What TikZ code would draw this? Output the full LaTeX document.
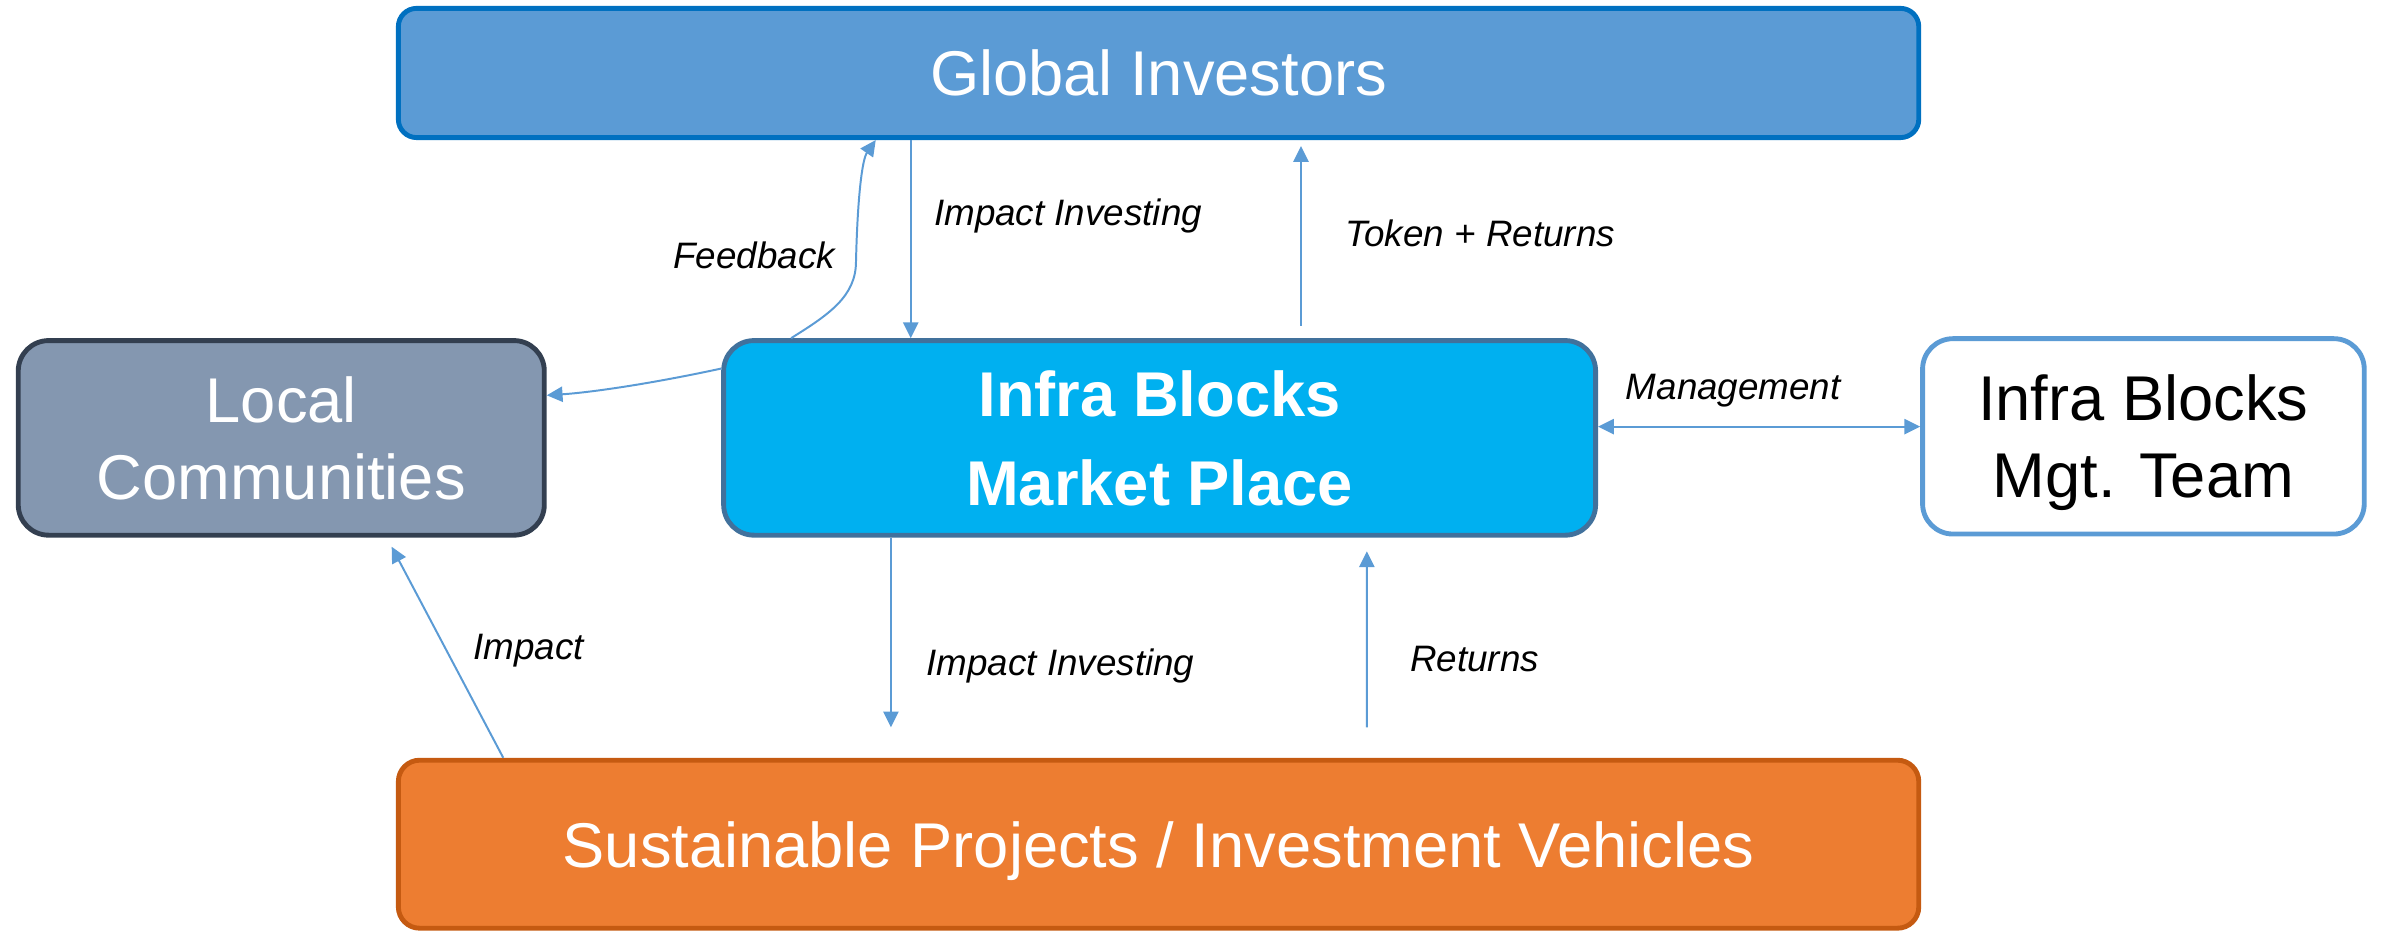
\documentclass[tikz,border=0pt]{standalone}
\usepackage{fontspec}
\setmainfont{Liberation Sans}
\usetikzlibrary{arrows.meta,calc}
\definecolor{giFill}{HTML}{5B9BD5}
\definecolor{giLine}{HTML}{0070C0}
\definecolor{lcFill}{HTML}{8497B0}
\definecolor{lcLine}{HTML}{333F50}
\definecolor{mpFill}{HTML}{00B0F0}
\definecolor{mpLine}{HTML}{41719C}
\definecolor{spFill}{HTML}{ED7D31}
\definecolor{spLine}{HTML}{C55A11}
\definecolor{conn}{HTML}{5B9BD5}
\begin{document}
\begin{tikzpicture}[x=0.5pt,y=-0.5pt,
  box/.style={draw, line width=1.6pt, rectangle, inner sep=0pt, align=center,
              text depth=0pt, font=\fontsize{20.8}{25.3}\selectfont},
  arr/.style={draw=conn, line width=0.65pt, -{Triangle[length=5.2pt,width=5pt]}},
  dbl/.style={draw=conn, line width=0.65pt, {Triangle[length=5.2pt,width=5pt]}-{Triangle[length=5.2pt,width=5pt]}},
  lbl/.style={font=\fontsize{12.1}{14}\selectfont\itshape, inner sep=0pt, anchor=base west}]
\useasboundingbox (0,0) rectangle (1568,612.33);

\node[box, fill=giFill, draw=giLine, text=white, rounded corners=6pt,
      minimum width=500pt, minimum height=42.5pt] (gi) at (762,48) {Global Investors};
\node[box, fill=lcFill, draw=lcLine, text=white, rounded corners=10pt,
      minimum width=173pt, minimum height=64pt] (lc) at (185,288) {Local\\Communities};
\node[box, fill=mpFill, draw=mpLine, text=white, rounded corners=10pt,
      minimum width=286.75pt, minimum height=64pt,
      font=\fontsize{20.8}{29.2}\selectfont\bfseries] (mp) at (762.7,288) {Infra Blocks\\Market Place};
\node[box, fill=white, draw=giFill, text=black, rounded corners=10pt,
      minimum width=145.25pt, minimum height=64.25pt] (mgt) at (1409.75,287) {Infra Blocks\\Mgt. Team};
\node[box, fill=spFill, draw=spLine, text=white, rounded corners=7pt,
      minimum width=500pt, minimum height=55.25pt] (sp) at (762,555.25) {Sustainable Projects / Investment Vehicles};

% connectors
\draw[arr] ($(gi.south)+(-163,0)$) -- ($(mp.north)+(-163.7,0)$);
\draw[arr] ($(mp.north)+(93,-8)$) -- ($(gi.south)+(93.7,4)$);
\draw[arr] ($(mp.north west)+(46,0)$) .. controls (545,207) and (563,195) .. (563,172)
   .. controls (564,130) and (567,105) .. ($(gi.south)+(-186,0)$);
\draw[arr] ($(mp.west)+(0,-45.6)$) .. controls (430,252) and (390,258) .. ($(lc.east)+(0,-28)$);
\draw[dbl] ($(mp.east)+(0,-7.4)$) -- ($(mgt.west)+(0,-6.4)$);
\draw[arr] ($(mp.south)+(-176.7,0)$) -- ($(sp.north)+(-176,-20)$);
\draw[arr] ($(sp.north)+(137,-20)$) -- ($(mp.south)+(136.3,9)$);
\draw[arr] ($(sp.north west)+(70.6,0)$) -- ($(lc.south)+(72.6,6)$);

% labels
\node[lbl] (l1) at (614,148) {Impact Investing};
\node[lbl] (l2) at (442.4,176.5) {Feedback};
\node[lbl] (l3) at (884.4,162) {Token + Returns};
\node[lbl] (l4) at (1069,263) {Management};
\node[lbl] (l5) at (609,444) {Impact Investing};
\node[lbl] (l6) at (927,441.8) {Returns};
\node[lbl] (l7) at (311,434) {Impact};
\end{tikzpicture}
\end{document}
